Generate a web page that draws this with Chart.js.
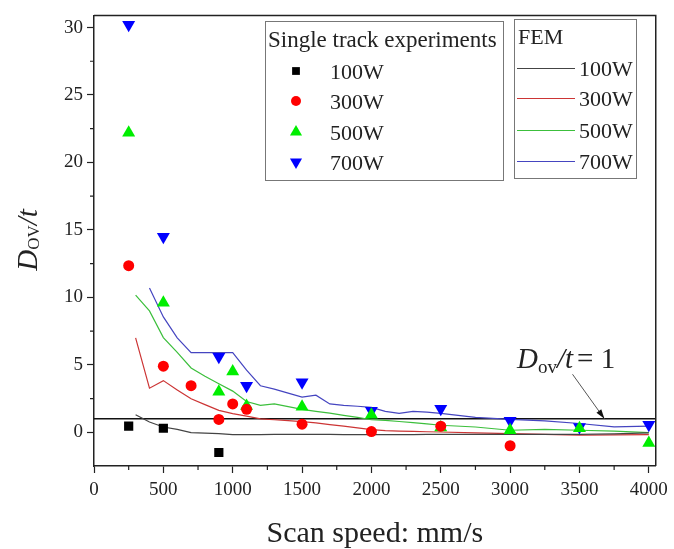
<!DOCTYPE html>
<html>
<head>
<meta charset="utf-8">
<script src="https://cdn.jsdelivr.net/npm/chart.js@4.4.0/dist/chart.umd.min.js"></script>
<style>
  html, body { margin: 0; padding: 0; background: #fff; }
  #wrap { width: 674px; height: 549px; position: relative; }
</style>
</head>
<body>
<div id="wrap"><canvas id="chart" width="674" height="549"></canvas></div>
<script>
// single track experiments (markers)
const exp100X = [250, 500, 900];
const exp100Y = [0.45, 0.3, -1.5];
const exp300X = [250, 500, 700, 900, 1000, 1100, 1500, 2000, 2500, 3000];
const exp300Y = [12.35, 4.9, 3.45, 0.95, 2.1, 1.7, 0.6, 0.05, 0.45, -1.0];
const exp500X = [250, 500, 900, 1000, 1100, 1500, 2000, 2500, 3000, 3500, 4000];
const exp500Y = [22.2, 9.6, 3.0, 4.5, 1.95, 1.9, 1.3, 0.35, 0.15, 0.3, -0.8];
const exp700X = [250, 500, 900, 1100, 1500, 2000, 2500, 3000, 3500, 4000];
const exp700Y = [30.2, 14.5, 5.6, 3.45, 3.7, 1.6, 1.75, 0.85, 0.4, 0.55];

// FEM curves
const femX = [300, 400, 500, 600, 700, 800, 900, 1000, 1100, 1200, 1300, 1400, 1500, 1600, 1700, 1800, 1900, 2000,
              2100, 2200, 2300, 2400, 2500, 2750, 3000, 3250, 3500, 3750, 4000];
const fem100 = [1.3, 0.76, 0.39, 0.22, -0.03, -0.07, -0.1, -0.17, -0.17, -0.17, -0.16, -0.16, -0.15, -0.15, -0.16, -0.17, -0.17, -0.17,
                -0.17, -0.17, -0.17, -0.16, -0.15, -0.15, -0.15, -0.15, -0.15, -0.12, -0.05];
const fem300 = [7.0, 3.27, 3.83, 3.14, 2.48, 2.05, 1.62, 1.38, 1.2, 1.0, 0.93, 0.86, 0.79, 0.7, 0.57, 0.45, 0.32, 0.2,
                0.12, 0.08, 0.06, 0.04, 0.02, -0.05, -0.1, -0.15, -0.22, -0.2, -0.17];
const fem500 = [10.17, 9.0, 7.02, 5.92, 4.77, 4.15, 3.59, 3.05, 2.28, 1.99, 2.11, 1.9, 1.7, 1.55, 1.42, 1.25, 1.1, 0.93,
                0.88, 0.8, 0.72, 0.62, 0.52, 0.39, 0.15, 0.22, 0.15, 0.08, -0.03];
const fem700 = [null, 10.7, 8.55, 7.0, 5.9, 5.9, 5.9, 5.9, 4.6, 3.45, 3.2, 2.9, 2.6, 2.75, 2.1, 2.0, 1.93, 1.85,
                1.55, 1.4, 1.55, 1.5, 1.4, 1.1, 0.95, 0.85, 0.65, 0.4, 0.45];

const powers = ['100W', '300W', '500W', '700W'];
const refY = 1;
const xTicks = [0, 500, 1000, 1500, 2000, 2500, 3000, 3500, 4000];
const yTicks = [0, 5, 10, 15, 20, 25, 30];

const markColors = ['#000000', '#ff0000', '#00ee00', '#0000ff'];
const lineColors = ['#444444', '#cc3535', '#3cbf3c', '#4545c0'];
const serif = '"Liberation Serif", "Times New Roman", serif';

const pts = (xs, ys) => xs.map((v, i) => ({ x: v, y: ys[i] }));

function marker(ctx, style, x, y, r, color) {
  ctx.save();
  ctx.fillStyle = color;
  ctx.beginPath();
  if (style === 'rect') {
    const s = r * Math.SQRT1_2;
    ctx.rect(x - s, y - s, 2 * s, 2 * s);
  } else if (style === 'circle') {
    ctx.arc(x, y, r, 0, Math.PI * 2);
  } else {
    const dir = style === 'down' ? -1 : 1;
    const h = r * Math.sqrt(3) / 2;
    ctx.moveTo(x, y - dir * r);
    ctx.lineTo(x + h, y + dir * r / 2);
    ctx.lineTo(x - h, y + dir * r / 2);
    ctx.closePath();
  }
  ctx.fill();
  ctx.restore();
}

const overlay = {
  id: 'overlay',
  afterDraw(chart) {
    const { ctx, chartArea: a, scales: { x, y } } = chart;
    ctx.save();
    ctx.strokeStyle = '#222';
    ctx.lineWidth = 1.5;
    ctx.beginPath();
    ctx.moveTo(a.left, a.top);
    ctx.lineTo(a.right, a.top);
    ctx.lineTo(a.right, a.bottom);
    ctx.stroke();

    // minor ticks
    ctx.lineWidth = 1.2;
    ctx.beginPath();
    for (let v = 250; v < 4050; v += 500) {
      const px = x.getPixelForValue(v);
      ctx.moveTo(px, a.bottom);
      ctx.lineTo(px, a.bottom + 4);
    }
    for (let v = 2.5; v < 30.9; v += 5) {
      const py = y.getPixelForValue(v);
      ctx.moveTo(a.left, py);
      ctx.lineTo(a.left - 4, py);
    }
    ctx.stroke();

    // legend boxes
    ctx.lineWidth = 1;
    ctx.strokeStyle = '#777';
    ctx.strokeRect(265.5, 21.5, 238, 159);
    ctx.strokeRect(514.5, 19.5, 122, 159);
    ctx.fillStyle = '#222';
    ctx.textBaseline = 'alphabetic';
    ctx.textAlign = 'left';
    ctx.font = '23px ' + serif;
    ctx.fillText('Single track experiments', 268, 47);
    ctx.font = '22px ' + serif;
    ctx.fillText('FEM', 518, 44);
    const styles = ['rect', 'circle', 'up', 'down'];
    const sizes = [5.5, 5, 7, 7];
    const rowsA = [71, 101, 132, 162];
    const rowsB = [68, 98, 130, 161];
    powers.forEach((p, i) => {
      marker(ctx, styles[i], 296, rowsA[i], sizes[i], markColors[i]);
      ctx.fillStyle = '#222';
      ctx.font = '22px ' + serif;
      ctx.fillText(p, 330, rowsA[i] + 8);
      ctx.strokeStyle = lineColors[i];
      ctx.lineWidth = 1.2;
      ctx.beginPath();
      ctx.moveTo(517, rowsB[i] + 0.5);
      ctx.lineTo(575, rowsB[i] + 0.5);
      ctx.stroke();
      ctx.fillText(p, 579, rowsB[i] + 8);
    });

    // annotation D_ov/t = 1 with arrow
    const ax0 = x.getPixelForValue(3450), ay0 = y.getPixelForValue(4.3);
    const ax1 = x.getPixelForValue(3680), ay1 = y.getPixelForValue(refY);
    ctx.strokeStyle = '#555';
    ctx.lineWidth = 1;
    ctx.beginPath();
    ctx.moveTo(ax0, ay0);
    ctx.lineTo(ax1, ay1);
    ctx.stroke();
    const ang = Math.atan2(ay1 - ay0, ax1 - ax0);
    ctx.fillStyle = '#111';
    ctx.beginPath();
    ctx.moveTo(ax1, ay1);
    ctx.lineTo(ax1 - 10 * Math.cos(ang - 0.3), ay1 - 10 * Math.sin(ang - 0.3));
    ctx.lineTo(ax1 - 10 * Math.cos(ang + 0.3), ay1 - 10 * Math.sin(ang + 0.3));
    ctx.closePath();
    ctx.fill();

    let tx = x.getPixelForValue(3050);
    const tb = y.getPixelForValue(4.8);
    ctx.fillStyle = '#222';
    ctx.font = 'italic 29px ' + serif;
    ctx.fillText('D', tx, tb); tx += ctx.measureText('D').width;
    ctx.font = '19px ' + serif;
    ctx.fillText('ov', tx, tb + 5); tx += ctx.measureText('ov').width;
    ctx.font = 'italic 29px ' + serif;
    ctx.fillText('/t', tx, tb); tx += ctx.measureText('/t').width + 4;
    ctx.font = '29px ' + serif;
    ctx.fillText('= 1', tx, tb);

    // x title
    ctx.font = '30px ' + serif;
    ctx.textAlign = 'center';
    ctx.fillText('Scan speed: mm/s', (a.left + a.right) / 2, 542);

    // y title (rotated)
    ctx.translate(37, 240);
    ctx.rotate(-Math.PI / 2);
    ctx.textAlign = 'left';
    const parts = [['italic 29px ', 'D', 0], ['17px ', 'OV', 2], ['italic 29px ', '/t', 0]];
    let w = 0;
    parts.forEach(p => { ctx.font = p[0] + serif; w += ctx.measureText(p[1]).width; });
    let cx = -w / 2;
    parts.forEach(p => {
      ctx.font = p[0] + serif;
      ctx.fillText(p[1], cx, p[2]);
      cx += ctx.measureText(p[1]).width;
    });
    ctx.restore();
  }
};

const scatterSets = [
  [exp100X, exp100Y, 'rect', 6.5, 0],
  [exp300X, exp300Y, 'circle', 5.5, 0],
  [exp500X, exp500Y, 'triangle', 7.5, 0],
  [exp700X, exp700Y, 'triangle', 7.5, 180]
].map((s, i) => ({
  type: 'scatter',
  label: 'Exp ' + powers[i],
  data: pts(s[0], s[1]),
  pointStyle: s[2],
  pointRadius: s[3],
  rotation: s[4],
  backgroundColor: markColors[i],
  borderWidth: 0,
  showLine: false,
  order: 0
}));

const femSets = [fem100, fem300, fem500, fem700].map((ys, i) => ({
  type: 'line',
  label: 'FEM ' + powers[i],
  data: pts(femX, ys),
  borderColor: lineColors[i],
  borderWidth: 1.2,
  pointRadius: 0,
  tension: 0,
  spanGaps: false,
  order: 1
}));

const refSet = {
  type: 'line',
  label: 'Dov/t = 1',
  data: [{ x: 0, y: refY }, { x: 4050, y: refY }],
  borderColor: '#111',
  borderWidth: 1.6,
  pointRadius: 0,
  order: 2
};

new Chart(document.getElementById('chart'), {
  type: 'scatter',
  data: { datasets: [...scatterSets, ...femSets, refSet] },
  options: {
    responsive: false,
    animation: false,
    layout: { padding: { top: 13, right: 15, left: 0, bottom: 0 } },
    plugins: { legend: { display: false }, tooltip: { enabled: false } },
    scales: {
      x: {
        type: 'linear',
        min: 0,
        max: 4050,
        afterBuildTicks: s => { s.ticks = xTicks.map(v => ({ value: v })); },
        afterFit: s => { s.height = 83; },
        ticks: { font: { family: serif, size: 19 }, color: '#222', padding: 6, maxRotation: 0, callback: v => String(v) },
        grid: { drawOnChartArea: false, tickLength: 7, tickColor: '#222', tickWidth: 1.2 },
        border: { color: '#222', width: 1.5 }
      },
      y: {
        type: 'linear',
        min: -2.5,
        max: 30.9,
        afterBuildTicks: s => { s.ticks = yTicks.map(v => ({ value: v })); },
        afterFit: s => { s.width = 94; },
        ticks: { font: { family: serif, size: 19 }, color: '#222', padding: 4, callback: v => String(v) },
        grid: { drawOnChartArea: false, tickLength: 7, tickColor: '#222', tickWidth: 1.2 },
        border: { color: '#222', width: 1.5 }
      }
    }
  },
  plugins: [overlay]
});
</script>
</body>
</html>
